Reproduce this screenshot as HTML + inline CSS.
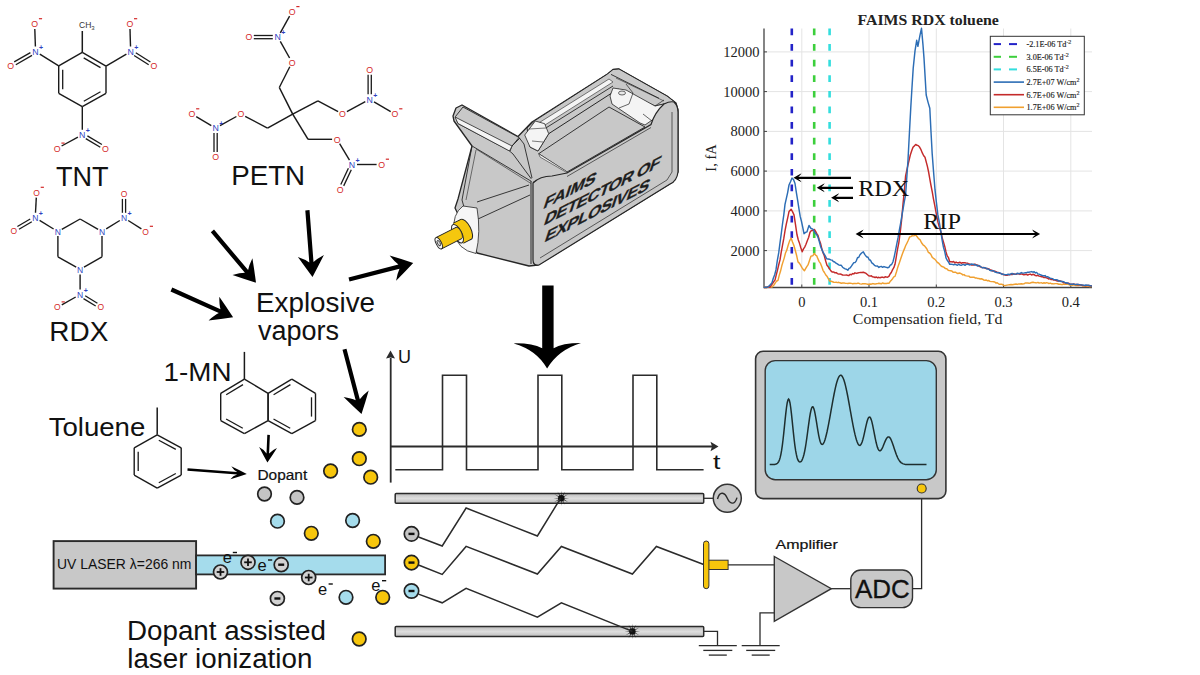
<!DOCTYPE html><html><head><meta charset="utf-8"><style>
html,body{margin:0;padding:0;background:#fff;width:1200px;height:675px;overflow:hidden}
svg{display:block}
.s{font-family:"Liberation Sans",sans-serif}
.r{font-family:"Liberation Serif",serif}
</style></head><body>
<svg width="1200" height="675" viewBox="0 0 1200 675">
<rect width="1200" height="675" fill="#fff"/>
<line x1="82.3" y1="52.4" x2="106" y2="66.2" stroke="#1a1a1a" stroke-width="1.4"/><line x1="106" y1="66.2" x2="106" y2="93.3" stroke="#1a1a1a" stroke-width="1.4"/><line x1="106" y1="93.3" x2="82.3" y2="106.7" stroke="#1a1a1a" stroke-width="1.4"/><line x1="82.3" y1="106.7" x2="58.7" y2="93.3" stroke="#1a1a1a" stroke-width="1.4"/><line x1="58.7" y1="93.3" x2="58.7" y2="65.8" stroke="#1a1a1a" stroke-width="1.4"/><line x1="58.7" y1="65.8" x2="82.3" y2="52.4" stroke="#1a1a1a" stroke-width="1.4"/><line x1="83.7" y1="57.9" x2="100.5" y2="67.6" stroke="#1a1a1a" stroke-width="1.3"/><line x1="100.5" y1="91.8" x2="83.8" y2="101.2" stroke="#1a1a1a" stroke-width="1.3"/><line x1="62.7" y1="89.3" x2="62.7" y2="69.8" stroke="#1a1a1a" stroke-width="1.3"/>
<line x1="82.3" y1="52.4" x2="82.3" y2="31" stroke="#1a1a1a" stroke-width="1.5"/>
<text x="79" y="28" font-size="8.5" fill="#333" class="s">CH<tspan font-size="6" dy="2">3</tspan></text>
<line x1="58.7" y1="65.8" x2="39.8" y2="54.1" stroke="#1a1a1a" stroke-width="1.4"/><line x1="35.4" y1="46.5" x2="34.8" y2="29" stroke="#1a1a1a" stroke-width="1.4"/><line x1="30.4" y1="52.6" x2="14.2" y2="61.9" stroke="#1a1a1a" stroke-width="1.3"/><line x1="32" y1="55.4" x2="15.8" y2="64.7" stroke="#1a1a1a" stroke-width="1.3"/><text x="35.5" y="54.7" text-anchor="middle" font-size="8.8" fill="#2f3fbf" class="s">N</text><text x="41.1" y="49.7" text-anchor="middle" font-size="7" fill="#2f3fbf" class="s" font-weight="bold">+</text><text x="34.7" y="27.2" text-anchor="middle" font-size="8.8" fill="#d42a2a" class="s">O</text><line x1="38.9" y1="18.7" x2="42.1" y2="18.7" stroke="#d42a2a" stroke-width="1.2"/><text x="10.7" y="69" text-anchor="middle" font-size="8.8" fill="#d42a2a" class="s">O</text>
<line x1="106" y1="66.2" x2="126.4" y2="54.1" stroke="#1a1a1a" stroke-width="1.4"/><line x1="130.5" y1="46.5" x2="130" y2="29" stroke="#1a1a1a" stroke-width="1.4"/><line x1="134.1" y1="55.5" x2="148.7" y2="64.7" stroke="#1a1a1a" stroke-width="1.3"/><line x1="135.8" y1="52.8" x2="150.4" y2="62" stroke="#1a1a1a" stroke-width="1.3"/><text x="130.7" y="54.7" text-anchor="middle" font-size="8.8" fill="#2f3fbf" class="s">N</text><text x="136.3" y="49.7" text-anchor="middle" font-size="7" fill="#2f3fbf" class="s" font-weight="bold">+</text><text x="129.8" y="27.2" text-anchor="middle" font-size="8.8" fill="#d42a2a" class="s">O</text><line x1="134" y1="18.7" x2="137.2" y2="18.7" stroke="#d42a2a" stroke-width="1.2"/><text x="153.8" y="69.2" text-anchor="middle" font-size="8.8" fill="#d42a2a" class="s">O</text>
<line x1="82.3" y1="106.7" x2="82.3" y2="129.7" stroke="#1a1a1a" stroke-width="1.4"/><line x1="77.9" y1="137.1" x2="61.6" y2="146" stroke="#1a1a1a" stroke-width="1.4"/><line x1="85.8" y1="138.6" x2="100.3" y2="147.2" stroke="#1a1a1a" stroke-width="1.3"/><line x1="87.4" y1="135.9" x2="101.9" y2="144.5" stroke="#1a1a1a" stroke-width="1.3"/><text x="82.3" y="137.9" text-anchor="middle" font-size="8.8" fill="#2f3fbf" class="s">N</text><text x="87.9" y="132.9" text-anchor="middle" font-size="7" fill="#2f3fbf" class="s" font-weight="bold">+</text><text x="57.2" y="151.6" text-anchor="middle" font-size="8.8" fill="#d42a2a" class="s">O</text><line x1="61.4" y1="143.1" x2="64.6" y2="143.1" stroke="#d42a2a" stroke-width="1.2"/><text x="105.4" y="151.6" text-anchor="middle" font-size="8.8" fill="#d42a2a" class="s">O</text>
<line x1="80.1" y1="219" x2="98.1" y2="229.4" stroke="#1a1a1a" stroke-width="1.4"/><line x1="102" y1="236.1" x2="102" y2="256.8" stroke="#1a1a1a" stroke-width="1.4"/><line x1="102" y1="256.8" x2="84" y2="267.2" stroke="#1a1a1a" stroke-width="1.4"/><line x1="76.2" y1="267.2" x2="57.9" y2="256.8" stroke="#1a1a1a" stroke-width="1.4"/><line x1="57.9" y1="256.8" x2="57.9" y2="236.1" stroke="#1a1a1a" stroke-width="1.4"/><line x1="61.8" y1="229.4" x2="80.1" y2="219" stroke="#1a1a1a" stroke-width="1.4"/>
<text x="102" y="234.8" text-anchor="middle" font-size="8.5" fill="#2f3fbf" class="s">N</text>
<text x="80.1" y="272.6" text-anchor="middle" font-size="8.5" fill="#2f3fbf" class="s">N</text>
<text x="57.9" y="234.8" text-anchor="middle" font-size="8.5" fill="#2f3fbf" class="s">N</text>
<line x1="53.6" y1="229" x2="39.6" y2="220.4" stroke="#1a1a1a" stroke-width="1.4"/><line x1="35.5" y1="212.8" x2="36.3" y2="197.6" stroke="#1a1a1a" stroke-width="1.4"/><line x1="30.2" y1="219" x2="17.4" y2="226.5" stroke="#1a1a1a" stroke-width="1.3"/><line x1="31.8" y1="221.7" x2="19" y2="229.2" stroke="#1a1a1a" stroke-width="1.3"/><text x="35.3" y="221" text-anchor="middle" font-size="8.5" fill="#2f3fbf" class="s">N</text><text x="40.9" y="216" text-anchor="middle" font-size="7" fill="#2f3fbf" class="s" font-weight="bold">+</text><text x="36.5" y="195.8" text-anchor="middle" font-size="8.5" fill="#d42a2a" class="s">O</text><line x1="40.7" y1="187.3" x2="43.9" y2="187.3" stroke="#d42a2a" stroke-width="1.2"/><text x="13.9" y="233.6" text-anchor="middle" font-size="8.5" fill="#d42a2a" class="s">O</text>
<line x1="106.2" y1="228.9" x2="119.8" y2="220.5" stroke="#1a1a1a" stroke-width="1.4"/><line x1="128.2" y1="220.5" x2="141.4" y2="228.9" stroke="#1a1a1a" stroke-width="1.4"/><line x1="125.6" y1="212.8" x2="125.6" y2="198.9" stroke="#1a1a1a" stroke-width="1.3"/><line x1="122.4" y1="212.8" x2="122.4" y2="198.9" stroke="#1a1a1a" stroke-width="1.3"/><text x="124" y="221" text-anchor="middle" font-size="8.5" fill="#2f3fbf" class="s">N</text><text x="129.6" y="216" text-anchor="middle" font-size="7" fill="#2f3fbf" class="s" font-weight="bold">+</text><text x="145.6" y="234.8" text-anchor="middle" font-size="8.5" fill="#d42a2a" class="s">O</text><line x1="149.8" y1="226.3" x2="153" y2="226.3" stroke="#d42a2a" stroke-width="1.2"/><text x="124" y="197.1" text-anchor="middle" font-size="8.5" fill="#d42a2a" class="s">O</text>
<line x1="80.1" y1="274.4" x2="80.1" y2="289.6" stroke="#1a1a1a" stroke-width="1.4"/><line x1="75.7" y1="297" x2="61.8" y2="304.8" stroke="#1a1a1a" stroke-width="1.4"/><line x1="83.5" y1="298.6" x2="95.7" y2="306" stroke="#1a1a1a" stroke-width="1.3"/><line x1="85.2" y1="295.8" x2="97.4" y2="303.2" stroke="#1a1a1a" stroke-width="1.3"/><text x="80.1" y="297.8" text-anchor="middle" font-size="8.5" fill="#2f3fbf" class="s">N</text><text x="85.7" y="292.8" text-anchor="middle" font-size="7" fill="#2f3fbf" class="s" font-weight="bold">+</text><text x="57.4" y="310.4" text-anchor="middle" font-size="8.5" fill="#d42a2a" class="s">O</text><line x1="61.6" y1="301.9" x2="64.8" y2="301.9" stroke="#d42a2a" stroke-width="1.2"/><text x="100.8" y="310.4" text-anchor="middle" font-size="8.5" fill="#d42a2a" class="s">O</text>
<line x1="292.7" y1="114.1" x2="279.3" y2="87.5" stroke="#1a1a1a" stroke-width="1.5"/><line x1="279.3" y1="87.5" x2="289.8" y2="66.8" stroke="#1a1a1a" stroke-width="1.4"/><line x1="289.6" y1="58" x2="280.3" y2="41.4" stroke="#1a1a1a" stroke-width="1.4"/><line x1="280.3" y1="32.8" x2="289.6" y2="16.2" stroke="#1a1a1a" stroke-width="1.4"/><line x1="272.8" y1="35.5" x2="253.8" y2="35.5" stroke="#1a1a1a" stroke-width="1.3"/><line x1="272.8" y1="38.7" x2="253.8" y2="38.7" stroke="#1a1a1a" stroke-width="1.3"/><text x="292.1" y="65.5" text-anchor="middle" font-size="8.8" fill="#d42a2a" class="s">O</text><text x="277.8" y="40.3" text-anchor="middle" font-size="8.8" fill="#2f3fbf" class="s">N</text><text x="283.4" y="35.3" text-anchor="middle" font-size="7" fill="#2f3fbf" class="s" font-weight="bold">+</text><text x="292.1" y="15.1" text-anchor="middle" font-size="8.8" fill="#d42a2a" class="s">O</text><line x1="296.3" y1="6.6" x2="299.5" y2="6.6" stroke="#d42a2a" stroke-width="1.2"/><text x="248.8" y="40.3" text-anchor="middle" font-size="8.8" fill="#d42a2a" class="s">O</text>
<line x1="292.7" y1="114.1" x2="317.9" y2="100.8" stroke="#1a1a1a" stroke-width="1.5"/><line x1="317.9" y1="100.8" x2="338.1" y2="111.7" stroke="#1a1a1a" stroke-width="1.4"/><line x1="346.9" y1="111.7" x2="365.3" y2="101.7" stroke="#1a1a1a" stroke-width="1.4"/><line x1="374" y1="101.8" x2="390.7" y2="111.6" stroke="#1a1a1a" stroke-width="1.4"/><line x1="371.3" y1="94.3" x2="371.3" y2="74.7" stroke="#1a1a1a" stroke-width="1.3"/><line x1="368.1" y1="94.3" x2="368.1" y2="74.7" stroke="#1a1a1a" stroke-width="1.3"/><text x="342.5" y="117.3" text-anchor="middle" font-size="8.8" fill="#d42a2a" class="s">O</text><text x="369.7" y="102.5" text-anchor="middle" font-size="8.8" fill="#2f3fbf" class="s">N</text><text x="375.3" y="97.5" text-anchor="middle" font-size="7" fill="#2f3fbf" class="s" font-weight="bold">+</text><text x="395" y="117.3" text-anchor="middle" font-size="8.8" fill="#d42a2a" class="s">O</text><line x1="399.2" y1="108.8" x2="402.4" y2="108.8" stroke="#d42a2a" stroke-width="1.2"/><text x="369.7" y="72.9" text-anchor="middle" font-size="8.8" fill="#d42a2a" class="s">O</text>
<line x1="292.7" y1="114.1" x2="267.5" y2="128.1" stroke="#1a1a1a" stroke-width="1.5"/><line x1="267.5" y1="128.1" x2="245.2" y2="116.4" stroke="#1a1a1a" stroke-width="1.4"/><line x1="236.4" y1="116.5" x2="220" y2="125.7" stroke="#1a1a1a" stroke-width="1.4"/><line x1="211.3" y1="125.6" x2="196.2" y2="116.6" stroke="#1a1a1a" stroke-width="1.4"/><line x1="214" y1="133.1" x2="214" y2="152.1" stroke="#1a1a1a" stroke-width="1.3"/><line x1="217.2" y1="133.1" x2="217.2" y2="152.1" stroke="#1a1a1a" stroke-width="1.3"/><text x="240.8" y="117.3" text-anchor="middle" font-size="8.8" fill="#d42a2a" class="s">O</text><text x="215.6" y="131.3" text-anchor="middle" font-size="8.8" fill="#2f3fbf" class="s">N</text><text x="221.2" y="126.3" text-anchor="middle" font-size="7" fill="#2f3fbf" class="s" font-weight="bold">+</text><text x="191.9" y="117.3" text-anchor="middle" font-size="8.8" fill="#d42a2a" class="s">O</text><line x1="196.1" y1="108.8" x2="199.3" y2="108.8" stroke="#d42a2a" stroke-width="1.2"/><text x="215.6" y="160.3" text-anchor="middle" font-size="8.8" fill="#d42a2a" class="s">O</text>
<line x1="292.7" y1="114.1" x2="308.1" y2="139.3" stroke="#1a1a1a" stroke-width="1.5"/><line x1="308.1" y1="139.3" x2="332.1" y2="139.3" stroke="#1a1a1a" stroke-width="1.4"/><line x1="339.6" y1="143.6" x2="349.5" y2="160.2" stroke="#1a1a1a" stroke-width="1.4"/><line x1="357" y1="164.5" x2="376.6" y2="164.5" stroke="#1a1a1a" stroke-width="1.4"/><line x1="348.4" y1="168.3" x2="340.8" y2="184.5" stroke="#1a1a1a" stroke-width="1.3"/><line x1="351.3" y1="169.7" x2="343.7" y2="185.9" stroke="#1a1a1a" stroke-width="1.3"/><text x="337.1" y="142.5" text-anchor="middle" font-size="8.8" fill="#d42a2a" class="s">O</text><text x="352" y="167.7" text-anchor="middle" font-size="8.8" fill="#2f3fbf" class="s">N</text><text x="357.6" y="162.7" text-anchor="middle" font-size="7" fill="#2f3fbf" class="s" font-weight="bold">+</text><text x="381.6" y="167.7" text-anchor="middle" font-size="8.8" fill="#d42a2a" class="s">O</text><line x1="385.8" y1="159.2" x2="389" y2="159.2" stroke="#d42a2a" stroke-width="1.2"/><text x="340.1" y="192.9" text-anchor="middle" font-size="8.8" fill="#d42a2a" class="s">O</text>
<text transform="translate(55.96,186.00) scale(0.968,1)" font-size="28" class="s" fill="#111" >TNT</text>
<text transform="translate(231.18,185.30) scale(0.990,1)" font-size="28" class="s" fill="#111" >PETN</text>
<text transform="translate(49.36,341.20) scale(0.999,1)" font-size="28" class="s" fill="#111" >RDX</text>
<text transform="translate(255.97,311.70) scale(1.012,1)" font-size="27.5" class="s" fill="#111" >Explosive</text>
<text transform="translate(257.93,339.50) scale(0.982,1)" font-size="27.5" class="s" fill="#111" >vapors</text>
<path d="M210.8 232.3 L244.9 272.8 Q240 272.8 232.5 275 Q244.1 279 256 282.7 Q254.4 270.3 252.4 258.3 Q249 265.3 248.1 270.1 L214 229.5 Z" fill="#000"/>
<path d="M305.3 210.4 L309.3 262.4 Q305.3 259.5 297.9 257 Q305 266.9 312.5 276.9 Q318.4 265.9 323.9 255 Q317 258.7 313.5 262.1 L309.5 210 Z" fill="#000"/>
<path d="M170.5 291.4 L218.8 313.1 Q214.4 315.2 208.6 320.5 Q220.8 319.1 233.1 317.2 Q226.3 306.7 219.3 296.7 Q219.2 304.6 220.5 309.3 L172.3 287.6 Z" fill="#000"/>
<path d="M349.5 281.4 L399.5 268.7 Q397.4 273.1 396.1 280.8 Q404.7 272.1 413.2 263 Q401.4 259 389.6 255.6 Q394.5 261.7 398.4 264.6 L348.5 277.4 Z" fill="#000"/>
<path d="M342.5 349.8 L355.7 400.3 Q351.3 398.2 343.6 397 Q352.3 405.6 361.5 414 Q365.4 402.1 368.7 390.4 Q362.6 395.2 359.8 399.2 L346.5 348.8 Z" fill="#000"/>
<path d="M542.2 285.5 L553.6 285.5 L553.6 348.3 Q562 343 581 343 Q558 350 547.1 368.6 Q537 350 513.6 343.4 Q532 343 542.2 348.3 Z" fill="#000"/>
<polygon points="453,116 456,108 462,105 518,136.5 532,122 607.5,74 613,69.5 619,69 667,96 676,103 678,110 678,172 673,182 538,265 529,266 477,253 455,208 458,199 472,146 454,121" fill="#c8c8c8" stroke="#262626" stroke-width="1.3" stroke-linejoin="round"/>
<polygon points="455.5,116.5 463,107 519,137.5 512,146 510,151 458,123.5" fill="#c8c8c8" stroke="#262626" stroke-width="0.9" stroke-linejoin="round"/>
<polygon points="455,117 512,146 509.5,151 458,123.5" fill="#f4f4f4" stroke="#262626" stroke-width="0.8" stroke-linejoin="round"/>
<polyline points="512,146 520,138" fill="none" stroke="#262626" stroke-width="0.9" stroke-linejoin="round"/>
<polyline points="509.5,151 513,154 531.3,178.9" fill="none" stroke="#262626" stroke-width="0.9" stroke-linejoin="round"/>
<polyline points="519,137.5 524,144 532,178" fill="none" stroke="#262626" stroke-width="0.9" stroke-linejoin="round"/>
<polyline points="472.6,146.3 531.3,181.3" fill="none" stroke="#262626" stroke-width="0.9" stroke-linejoin="round"/>
<polyline points="476,149 531,183.5" fill="none" stroke="#262626" stroke-width="0.6" stroke-linejoin="round"/>
<polyline points="472,146 462,200 477,253" fill="none" stroke="#262626" stroke-width="0.9" stroke-linejoin="round"/>
<polyline points="476,150 466,200" fill="none" stroke="#262626" stroke-width="0.6" stroke-linejoin="round"/>
<polyline points="477,202 529,185" fill="none" stroke="#262626" stroke-width="0.9" stroke-linejoin="round"/>
<polyline points="478,219 530,195" fill="none" stroke="#262626" stroke-width="0.9" stroke-linejoin="round"/>
<polyline points="531,181 531,264" fill="none" stroke="#262626" stroke-width="1.0" stroke-linejoin="round"/>
<polyline points="534,181 534,264" fill="none" stroke="#262626" stroke-width="0.7" stroke-linejoin="round"/>
<polygon points="527,128 535.3,120.3 607.5,74 613,69.5 619,69 667,96 676,103 664,104 655,106 618,89 548.7,133.7 538,151 530,147" fill="#c8c8c8" stroke="#262626" stroke-width="1.0" stroke-linejoin="round"/>
<polygon points="537,124 609,79 613,82 541,127.5" fill="#f4f4f4" stroke="#262626" stroke-width="0.6" stroke-linejoin="round"/>
<polyline points="541,131 613,86" fill="none" stroke="#262626" stroke-width="0.9" stroke-linejoin="round"/>
<polyline points="611,74.4 659,98.3" fill="none" stroke="#262626" stroke-width="0.9" stroke-linejoin="round"/>
<polyline points="616,78 664,101" fill="none" stroke="#262626" stroke-width="0.6" stroke-linejoin="round"/>
<polygon points="613,88 626,90 655,106 664,104 668,110 655,118 645,125 640,123 612,104 610,96" fill="#f4f4f4" stroke="#262626" stroke-width="0.8" stroke-linejoin="round"/>
<ellipse cx="622" cy="93" rx="3.5" ry="2" fill="#e8e8e8" stroke="#262626" stroke-width="0.7"/>
<polyline points="626,84 633,93 629,104 619,108" fill="none" stroke="#262626" stroke-width="0.7" stroke-linejoin="round"/>
<polyline points="643,114 652,121" fill="none" stroke="#262626" stroke-width="0.7" stroke-linejoin="round"/>
<polyline points="655,106 664,100" fill="none" stroke="#262626" stroke-width="0.7" stroke-linejoin="round"/>
<polygon points="524.7,135 535.3,121 544.7,123.7 548.7,133.7 538,151 530,147" fill="#f4f4f4" stroke="#262626" stroke-width="0.8" stroke-linejoin="round"/>
<polyline points="529,129 546,128" fill="none" stroke="#262626" stroke-width="0.6" stroke-linejoin="round"/>
<polyline points="532,141 543,142" fill="none" stroke="#262626" stroke-width="0.6" stroke-linejoin="round"/>
<polygon points="538.7,153.7 609,107 645,127 567,172" fill="#c8c8c8" stroke="#262626" stroke-width="0.9" stroke-linejoin="round"/>
<polygon points="538.7,153.7 566,171 568.7,173.7 540,157" fill="#f4f4f4" stroke="#262626" stroke-width="0.6" stroke-linejoin="round"/>
<path d="M533 183 Q540 176 552 176 L567 173 L651 124.5 Q655 112 664 104 Q670 101 674 102 Q678 106 678 112 L678 172 Q677 181 670 184 L539 265 Q533 266 533 260 Z" fill="#c8c8c8" stroke="#262626" stroke-width="1.2"/>
<polyline points="567,176.5 651,127.5" fill="none" stroke="#262626" stroke-width="0.7" stroke-linejoin="round"/>
<polyline points="672,112 672,172 667,180 540,258" fill="none" stroke="#262626" stroke-width="0.7" stroke-linejoin="round"/>
<path d="M463 206 Q452 214 454 232 Q457 250 476 253.5 Q481 232 477 208 Z" fill="#f6f6f6" stroke="#262626" stroke-width="0.8"/>
<ellipse cx="466" cy="229.4" rx="4.7" ry="11.2" transform="rotate(-27 466 229.4)" fill="#f5c70e" stroke="#262626" stroke-width="1.0"/>
<polygon points="463.5,243.2 471.1,239.3 460.9,219.4 453.3,223.2" fill="#f5c70e" stroke="none"/><line x1="463.5" y1="243.2" x2="471.1" y2="239.3" stroke="#262626" stroke-width="1"/><line x1="453.3" y1="223.2" x2="460.9" y2="219.4" stroke="#262626" stroke-width="1"/>
<ellipse cx="457.5" cy="233.7" rx="4.3" ry="10.2" transform="rotate(-27 457.5 233.7)" fill="#f8f8f8" stroke="#262626" stroke-width="1.0"/>
<ellipse cx="458.8" cy="233" rx="2.6" ry="6.3" transform="rotate(-27 458.8 233)" fill="#f5c70e" stroke="#262626" stroke-width="0.8"/>
<polygon points="441.7,248.8 461.7,238.6 456,227.4 435.9,237.6" fill="#f5c70e" stroke="none"/><line x1="441.7" y1="248.8" x2="461.7" y2="238.6" stroke="#262626" stroke-width="1"/><line x1="435.9" y1="237.6" x2="456" y2="227.4" stroke="#262626" stroke-width="1"/>
<ellipse cx="438.8" cy="243.2" rx="2.6" ry="6.3" transform="rotate(-27 438.8 243.2)" fill="#f8f8f8" stroke="#262626" stroke-width="1.0"/>
<ellipse cx="438.8" cy="243.2" rx="1.3" ry="3" transform="rotate(-27 438.8 243.2)" fill="#d8d8d8" stroke="#262626" stroke-width="0.8"/>
<g transform="matrix(1,-0.51,-0.33,1,0,0)" font-family="Liberation Sans" font-weight="bold" font-size="17" fill="#1e1e1e" stroke="#1e1e1e" stroke-width="0.35">
<text x="735.3" y="584.3" letter-spacing="0">FAIMS</text>
<text x="742.5" y="604.5" letter-spacing="-0.6">DETECTOR OF</text>
<text x="749.9" y="625" letter-spacing="-0.4">EXPLOSIVES</text>
</g>
<line x1="801.8" y1="28.5" x2="801.8" y2="287.5" stroke="#e4e4e4" stroke-width="1"/>
<line x1="869" y1="28.5" x2="869" y2="287.5" stroke="#e4e4e4" stroke-width="1"/>
<line x1="936.3" y1="28.5" x2="936.3" y2="287.5" stroke="#e4e4e4" stroke-width="1"/>
<line x1="1003.5" y1="28.5" x2="1003.5" y2="287.5" stroke="#e4e4e4" stroke-width="1"/>
<line x1="1070.8" y1="28.5" x2="1070.8" y2="287.5" stroke="#e4e4e4" stroke-width="1"/>
<line x1="764" y1="250.6" x2="1092" y2="250.6" stroke="#e4e4e4" stroke-width="1"/>
<line x1="764" y1="210.9" x2="1092" y2="210.9" stroke="#e4e4e4" stroke-width="1"/>
<line x1="764" y1="171.1" x2="1092" y2="171.1" stroke="#e4e4e4" stroke-width="1"/>
<line x1="764" y1="131.4" x2="1092" y2="131.4" stroke="#e4e4e4" stroke-width="1"/>
<line x1="764" y1="91.6" x2="1092" y2="91.6" stroke="#e4e4e4" stroke-width="1"/>
<line x1="764" y1="51.9" x2="1092" y2="51.9" stroke="#e4e4e4" stroke-width="1"/>
<polyline points="764,28.5 764,287.5 1092,287.5" fill="none" stroke="#444" stroke-width="1.3"/>
<line x1="764" y1="250.6" x2="767" y2="250.6" stroke="#444" stroke-width="1"/>
<text x="759.5" y="255.6" text-anchor="end" font-size="14.5" class="r" fill="#222">2000</text>
<line x1="764" y1="210.9" x2="767" y2="210.9" stroke="#444" stroke-width="1"/>
<text x="759.5" y="215.9" text-anchor="end" font-size="14.5" class="r" fill="#222">4000</text>
<line x1="764" y1="171.1" x2="767" y2="171.1" stroke="#444" stroke-width="1"/>
<text x="759.5" y="176.1" text-anchor="end" font-size="14.5" class="r" fill="#222">6000</text>
<line x1="764" y1="131.4" x2="767" y2="131.4" stroke="#444" stroke-width="1"/>
<text x="759.5" y="136.4" text-anchor="end" font-size="14.5" class="r" fill="#222">8000</text>
<line x1="764" y1="91.6" x2="767" y2="91.6" stroke="#444" stroke-width="1"/>
<text x="759.5" y="96.6" text-anchor="end" font-size="14.5" class="r" fill="#222">10000</text>
<line x1="764" y1="51.9" x2="767" y2="51.9" stroke="#444" stroke-width="1"/>
<text x="759.5" y="56.9" text-anchor="end" font-size="14.5" class="r" fill="#222">12000</text>
<line x1="801.8" y1="287.5" x2="801.8" y2="284.5" stroke="#444" stroke-width="1"/>
<text x="801.8" y="307" text-anchor="middle" font-size="14.5" class="r" fill="#222">0</text>
<line x1="869" y1="287.5" x2="869" y2="284.5" stroke="#444" stroke-width="1"/>
<text x="869" y="307" text-anchor="middle" font-size="14.5" class="r" fill="#222">0.1</text>
<line x1="936.3" y1="287.5" x2="936.3" y2="284.5" stroke="#444" stroke-width="1"/>
<text x="936.3" y="307" text-anchor="middle" font-size="14.5" class="r" fill="#222">0.2</text>
<line x1="1003.5" y1="287.5" x2="1003.5" y2="284.5" stroke="#444" stroke-width="1"/>
<text x="1003.5" y="307" text-anchor="middle" font-size="14.5" class="r" fill="#222">0.3</text>
<line x1="1070.8" y1="287.5" x2="1070.8" y2="284.5" stroke="#444" stroke-width="1"/>
<text x="1070.8" y="307" text-anchor="middle" font-size="14.5" class="r" fill="#222">0.4</text>
<text transform="translate(852.87,324.00) scale(1.021,1)" font-size="15.5" class="r" fill="#222" >Compensation field, Td</text>
<text transform="translate(715.5,158) rotate(-90)" text-anchor="middle" font-size="14.5" class="r" fill="#222">I, fA</text>
<text transform="translate(857.48,24.90) scale(1.148,1)" font-size="13.8" class="r" fill="#222" font-weight="bold">FAIMS RDX toluene</text>
<line x1="791.8" y1="28.5" x2="791.8" y2="287.5" stroke="#2323c8" stroke-width="2.6" stroke-dasharray="6.7 8.9"/>
<line x1="814.2" y1="28.5" x2="814.2" y2="287.5" stroke="#3ccf3c" stroke-width="2.6" stroke-dasharray="6.7 8.9"/>
<line x1="829.6" y1="28.5" x2="829.6" y2="287.5" stroke="#33dede" stroke-width="2.6" stroke-dasharray="6.7 8.9"/>
<polyline points="764,287.5 765.3,287.2 766.7,287.5 768,287.4 769.3,287 770.7,287.1 772,287 773.2,285.7 774.4,284.4 775.6,282.4 776.8,281 778,280.3 779.2,275.4 780.5,271.3 781.8,265.8 783,261.9 784.2,258.1 785.5,253 786.8,250.1 788,245.7 789.5,241.1 791.1,238 792.5,242 794,245.8 795.3,250.5 796.7,255.8 798,261.9 799.3,263.1 800.6,265.2 801.8,267.4 803.1,269.3 804.4,270.8 805.6,268.7 806.8,266.6 808,264.9 809.5,260.6 811,256.1 812.7,255.8 814.4,253.4 815.6,255.1 816.8,255.9 818,258.9 819.2,261.6 820.5,263.4 821.8,266.8 823,270.3 824.4,272.5 825.8,275 827.2,276.6 828.6,279.2 830,281.3 831.2,281.2 832.5,281.7 833.8,282.2 835,282.4 836.2,282.3 837.5,282.6 838.8,282.3 840,282.8 841.3,283.3 842.6,283 843.9,282.9 845.2,283.2 846.5,283.4 847.8,283.5 849,283.2 850.3,283.3 851.5,283.4 852.7,283.7 854,283.5 855.2,283.4 856.4,283.6 857.7,283.2 858.9,283.3 860.1,283.9 861.4,284.1 862.6,283.8 863.8,283.7 865.1,283.6 866.3,283.9 867.5,284.3 868.8,284.2 870,284 871.3,284.2 872.5,283.6 873.8,283.8 875,284.1 876.3,283.7 877.6,283.6 878.8,283.3 880.1,283.5 881.3,283.8 882.6,282.9 883.9,283.5 885.1,283.5 886.4,283.5 887.6,283.3 888.9,283.3 890.1,281.6 891.3,280.3 892.6,278.7 893.8,276.9 895,276.4 896.5,271.7 897.9,266.9 899.3,263 900.8,258.6 902,255.1 903.2,251.8 904.4,248.9 905.6,245.8 906.9,243.2 908.3,240.3 909.6,237 910.8,236.6 912,235.8 913.2,235.9 914.4,235.6 915.6,234.8 917.1,236.7 918.5,238.7 920,239.6 921.5,242.8 923,244.8 924.5,245.9 925.8,247.5 927,249.2 928.3,252.3 929.6,253 930.9,254.5 932.1,257.1 933.4,258.3 934.7,259.1 936,260.6 937.4,262.5 938.7,263.2 940,264.7 941.4,266.2 942.7,266.7 944.1,267.4 945.5,268.6 946.8,268.8 948.2,270.2 949.4,270.6 950.6,270.7 951.9,271 953.1,272.3 954.3,272.2 955.5,272.2 956.7,273 957.9,273.6 959.2,273 960.4,273.3 961.6,273.9 962.8,274.9 964,274.6 965.2,275.6 966.5,275.9 967.7,276.1 968.9,276.1 970.1,277.2 971.4,277.3 972.6,277.2 973.9,277.2 975.1,277.9 976.3,277.9 977.6,278.4 978.8,278.4 980.1,279 981.3,278.7 982.6,279.2 983.8,280.1 985,280.3 986.3,280 987.5,280.8 988.8,280.5 990,281.4 991.2,281.6 992.4,281.6 993.6,281.8 994.8,282 996,283.1 997.2,282.7 998.5,283.8 999.7,284.3 1000.9,284.3 1002.1,284.3 1003.3,285.2 1004.5,285.7 1005.8,285.4 1007.1,285.1 1008.4,284.9 1009.7,284.7 1011,284.5 1012.2,284.8 1013.5,284.5 1014.8,284.2 1016.1,284 1017.4,284.4 1018.7,283.9 1020,284 1021.3,283.7 1022.6,284 1023.9,283.9 1025.2,283 1026.5,283 1027.7,282.9 1029,283.3 1030.3,283 1031.6,282.5 1032.9,282.2 1034.2,282.5 1035.4,282.7 1036.7,282.9 1037.9,282.4 1039.1,283 1040.3,282.9 1041.6,282.8 1042.8,283.3 1044,282.7 1045.3,283.2 1046.5,282.7 1047.7,282.9 1048.9,283.6 1050.2,283.1 1051.4,283.7 1052.6,283.6 1053.9,283.9 1055.1,283.6 1056.3,283.6 1057.5,283.7 1058.8,284.2 1060,284.1 1061.2,284.5 1062.5,284.5 1063.7,284 1064.9,284.4 1066.2,284.2 1067.4,284.2 1068.6,284.3 1069.8,285.1 1071.1,285.1 1072.3,285.2 1073.5,284.9 1074.8,285.2 1076,285.5 1077.2,285.2 1078.5,285.5 1079.7,285.3 1080.9,285.3 1082.2,285.5 1083.4,286.1 1084.6,286 1085.8,286.3 1087.1,286.1 1088.3,286 1089.5,286.5 1090.8,286.4 1092,286.5" fill="none" stroke="#f0a030" stroke-width="1.45" stroke-linejoin="round"/>
<polyline points="764,287.5 765.2,287.5 766.4,287.5 767.6,286.9 768.8,286.8 770,287.2 771.2,285.4 772.5,283.6 773.8,281.6 775,280.1 776.2,275.1 777.5,270.1 778.8,264.5 780,259.9 781.2,252.3 782.5,245.4 783.8,238.4 785,230.8 786.3,224.1 787.7,217.9 789,211.6 791.1,209.2 792.5,211.6 794,214.9 795.5,224.7 797,234.8 798.3,240 799.6,243.6 800.9,248 802.2,251.7 803.5,248.9 804.7,247.1 806,244.3 807.3,240.7 808.7,237.2 810,232.3 811.5,230.4 812.9,230.6 814.4,229.4 815.6,231.4 816.8,233.7 818,235.5 819.2,239.8 820.5,243.2 821.8,248.6 823,252.8 824.3,255.7 825.7,261.1 827,265.3 828.4,267 829.7,269.1 831.1,271.1 832.4,272.1 833.6,271.9 834.9,272.8 836.2,272.6 837.5,273.6 838.7,274.1 840,274 841.3,274.3 842.6,275 843.9,275.1 845.2,275.1 846.5,275 847.8,275.4 849,275.4 850.2,274.3 851.4,274.8 852.6,273.6 853.8,273.9 855,272.8 856.4,273.4 857.8,273 859.1,272.6 860.5,272.5 861.9,272.5 863.3,272.3 864.6,272.7 866,273.4 867.3,274.5 868.7,275.7 870,276.1 871.3,275.8 872.5,276.9 873.8,277 875.1,277.5 876.4,277 877.6,277.8 878.9,277.3 880.1,277.8 881.4,277.3 882.6,277.1 883.9,277.7 885.1,276.7 886.4,277 887.6,277.2 888.9,276.4 890.1,274 891.3,272.5 892.6,269.6 893.8,267.7 895,264.3 896.2,257.3 897.5,249.4 898.8,242.8 900,234.2 901.5,220.8 903,204.1 904.3,191.3 905.6,175.8 907.3,167.9 909,160.6 910.3,155 911.7,150.8 913,147.3 914.3,145.9 915.7,144.4 917,145.3 918.3,145.6 919.7,147.3 921,149.7 922.3,152.9 923.7,155.8 925,157.3 927.4,166.4 928.6,172 929.8,178.8 931,185.5 932.3,192.2 933.5,199.2 934.8,205.7 936.4,214.3 938,222.4 939.4,227.2 940.9,232 942.3,238.1 943.5,242.2 944.8,246.6 946,251.9 947.2,255.9 948.5,257.7 949.7,261.7 951,261.6 952.3,262 953.6,261.5 954.9,263 956.1,262.1 957.4,262.8 958.7,262.7 960,262.2 961.2,263.2 962.5,262.7 963.7,262.7 965,262.8 966.2,263.1 967.5,263.1 968.7,264.1 969.9,264 971.2,264.9 972.4,264.9 973.7,265.1 974.9,264.1 976.2,264.9 977.4,265 978.7,266 979.9,266.5 981.2,267.2 982.5,267.6 983.7,267.4 985,268.1 986.2,268.7 987.5,268.4 988.7,268.9 990,269.9 991.2,269.9 992.4,271.1 993.6,270.9 994.8,271.1 996,271.6 997.2,272.1 998.5,272.5 999.7,273.3 1000.9,273.6 1002.1,273.9 1003.3,274.7 1004.5,274.6 1005.8,275.3 1007.1,275.3 1008.4,274.9 1009.7,274.5 1011,274.5 1012.2,274.5 1013.5,273.8 1014.8,274.2 1016.1,274.3 1017.4,273.8 1018.7,273.6 1020,274.4 1021.3,273.9 1022.6,274.2 1023.9,274.7 1025.2,274.5 1026.5,274.2 1027.7,275.1 1029,274.4 1030.3,274.1 1031.6,275 1032.9,274.3 1034.2,274.7 1035.4,275.6 1036.6,275.7 1037.8,275.3 1039.1,276.1 1040.3,276.4 1041.5,276.8 1042.7,276.8 1043.9,277.5 1045.1,277.3 1046.4,277.8 1047.6,278.2 1048.8,279.1 1050,278.6 1051.2,279.6 1052.5,279.3 1053.7,280 1054.9,280.1 1056.2,280.5 1057.4,281 1058.6,281 1059.8,281 1061.1,281.3 1062.3,281.6 1063.5,282.6 1064.8,282.7 1066,283.3 1067.2,283.4 1068.5,283.1 1069.7,283.9 1070.9,284.2 1072.2,284.2 1073.4,284.2 1074.7,284.2 1075.9,284.4 1077.1,284.8 1078.4,284.5 1079.6,284.8 1080.8,284.9 1082.1,285.4 1083.3,285.4 1084.6,285.6 1085.8,285.7 1087,285.4 1088.3,285.4 1089.5,285.7 1090.8,285.9 1092,286" fill="none" stroke="#c42a2a" stroke-width="1.45" stroke-linejoin="round"/>
<polyline points="764,287.5 765.3,287.1 766.7,287.2 768,286.9 769.3,285.7 770.7,284.4 772,282.6 773.3,278.2 774.7,274.7 776,269.7 777.3,260.6 778.7,252.9 780,242.9 781.2,234.1 782.5,224 783.8,214.8 785,204.4 786.3,198.6 787.7,192.3 789,185 790.5,181.8 792,178.1 793.5,179.6 795,183.5 796.3,192.2 797.7,200.6 799,209.2 800.2,216.4 801.5,221.5 802.8,227.6 804,233.7 805.5,232.4 807,231.8 809,225.4 811,228.5 812.5,228.9 814,230.8 815.3,233.3 816.7,234.6 818,237.3 819.3,241.5 820.7,246.8 822,249.9 823.6,253.2 825.1,255.6 826.7,258.9 828,259 829.4,259.2 830.7,259.9 832,260.1 833.3,261.5 834.7,262 836,263.2 837.3,263.9 838.7,264.9 840,265.3 841.3,265.3 842.6,267.2 843.9,268.2 845.2,268.9 846.5,269.3 847.8,270.3 849,268.3 850.2,267.8 851.4,266.1 852.6,264.3 853.8,262.6 855,262.6 856.2,261.1 857.5,257.8 858.8,257.3 860,254.8 861.6,253 863.3,251.8 864.9,254.6 866.4,256.7 868,257.2 869.2,259.7 870.5,260.2 871.8,262.9 873,263.7 874.5,265.3 876,266.1 877.4,266 878.9,267.4 880.1,266.6 881.4,266.4 882.6,267.3 883.9,266.6 885.1,267 886.4,267.4 887.6,267.8 888.9,267.3 890.3,265.2 891.6,264.5 893,261.7 894.2,256.8 895.5,250.7 896.8,243.8 898,237.9 899.3,230.4 900.7,222.9 902,215.2 903.2,208.1 904.4,201.2 905.6,194.8 908,160 909.4,133.2 910.8,107.1 912,87.3 913.2,68.4 915,50.9 916.7,40.3 917.9,46.3 920,35.1 921.5,28.3 923,45.1 924,58.1 926.2,95 928,102.1 929.8,108.2 931,131.7 932.2,153.9 933.6,172.3 935,189.7 936.4,202.4 937.8,214.4 939.3,222.1 940.8,231.1 942.3,241.1 943.5,247.4 944.8,251.8 946,257.9 947.2,260.3 948.5,262 949.7,264.3 951,264.3 952.3,264.4 953.6,264.8 954.9,264.4 956.1,264.6 957.4,265.3 958.7,264.2 960,265.1 961.2,265.3 962.5,264.6 963.7,264.4 965,265.3 966.2,264.4 967.5,264.3 968.7,264.6 969.9,265 971.2,264 972.4,264.3 973.7,264.3 974.9,265 976.2,264.9 977.4,266 978.7,265.4 979.9,266.1 981.2,267 982.5,267.8 983.7,267.6 985,267.8 986.2,268.1 987.5,269.1 988.7,269.1 990,270.4 991.2,270.9 992.4,270.4 993.6,270.9 994.8,272 996,272.2 997.2,272.8 998.5,272.7 999.7,272.8 1000.9,273.4 1002.1,274.4 1003.3,274.2 1004.5,274.7 1005.8,274.6 1007.1,274.5 1008.4,274.3 1009.7,274.8 1011,273.7 1012.2,273.4 1013.5,274.3 1014.8,274.1 1016.1,274.1 1017.4,273.2 1018.7,273.7 1020,273.5 1021.3,272.6 1022.6,273.1 1023.9,273.1 1025.2,272.8 1026.5,272.6 1027.7,272.2 1029,272.2 1030.3,271.9 1031.6,271.6 1032.9,272.2 1034.2,271.7 1035.4,272.9 1036.6,272.4 1037.8,273.9 1039.1,274.1 1040.3,274.8 1041.5,275.2 1042.7,275.7 1043.9,275.8 1045.1,275.6 1046.4,276.9 1047.6,276.7 1048.8,277.3 1050,278.2 1051.2,278.4 1052.5,278.6 1053.7,279.5 1054.9,279.6 1056.2,279.7 1057.4,279.9 1058.6,280.9 1059.8,280.9 1061.1,281.5 1062.3,281.5 1063.5,281.7 1064.8,282.4 1066,283 1067.2,282.8 1068.5,283.7 1069.7,284.2 1070.9,284.2 1072.2,284.3 1073.4,283.8 1074.7,284.4 1075.9,284.7 1077.1,284.2 1078.4,284.5 1079.6,284.6 1080.8,284.9 1082.1,285 1083.3,285.1 1084.6,285.5 1085.8,285 1087,285.2 1088.3,285.3 1089.5,285.5 1090.8,285.9 1092,286" fill="none" stroke="#2c6db5" stroke-width="1.45" stroke-linejoin="round"/>
<rect x="990.3" y="36.3" width="94" height="78.5" fill="#fff" stroke="#333" stroke-width="1"/>
<line x1="993.7" y1="44.1" x2="1001" y2="44.1" stroke="#2323c8" stroke-width="2"/><line x1="1009" y1="44.1" x2="1017" y2="44.1" stroke="#2323c8" stroke-width="2"/>
<text x="1026.5" y="47.1" font-size="8.2" class="r" fill="#222" stroke="#222" stroke-width="0.15">-2.1E-06 Td<tspan dy="-3" font-size="6">-2</tspan></text>
<line x1="993.7" y1="56.8" x2="1001" y2="56.8" stroke="#3ccf3c" stroke-width="2"/><line x1="1009" y1="56.8" x2="1017" y2="56.8" stroke="#3ccf3c" stroke-width="2"/>
<text x="1026.5" y="59.8" font-size="8.2" class="r" fill="#222" stroke="#222" stroke-width="0.15">3.0E-06 Td<tspan dy="-3" font-size="6">-2</tspan></text>
<line x1="993.7" y1="69.4" x2="1001" y2="69.4" stroke="#33dede" stroke-width="2"/><line x1="1009" y1="69.4" x2="1017" y2="69.4" stroke="#33dede" stroke-width="2"/>
<text x="1026.5" y="72.4" font-size="8.2" class="r" fill="#222" stroke="#222" stroke-width="0.15">6.5E-06 Td<tspan dy="-3" font-size="6">-2</tspan></text>
<line x1="993.7" y1="82.1" x2="1024" y2="82.1" stroke="#2c6db5" stroke-width="1.6"/>
<text x="1026.5" y="85.1" font-size="8.2" class="r" fill="#222" stroke="#222" stroke-width="0.15">2.7E+07 W/cm<tspan dy="-3" font-size="6">2</tspan></text>
<line x1="993.7" y1="94.7" x2="1024" y2="94.7" stroke="#c42a2a" stroke-width="1.6"/>
<text x="1026.5" y="97.7" font-size="8.2" class="r" fill="#222" stroke="#222" stroke-width="0.15">6.7E+06 W/cm<tspan dy="-3" font-size="6">2</tspan></text>
<line x1="993.7" y1="107.3" x2="1024" y2="107.3" stroke="#f0a030" stroke-width="1.6"/>
<text x="1026.5" y="110.3" font-size="8.2" class="r" fill="#222" stroke="#222" stroke-width="0.15">1.7E+06 W/cm<tspan dy="-3" font-size="6">2</tspan></text>
<path d="M851 176.7 L798.3 176.7 Q800.3 175.8 801.5 173.3 Q797.5 175.5 793.5 177.8 Q797.5 180.1 801.5 182.3 Q800.3 179.8 798.3 178.9 L851 178.9 Z" fill="#000"/>
<path d="M853 186.7 L821.5 186.7 Q823.5 185.8 824.7 183.3 Q820.7 185.5 816.7 187.8 Q820.7 190.1 824.7 192.3 Q823.5 189.8 821.5 188.9 L853 188.9 Z" fill="#000"/>
<path d="M853 196.7 L835.9 196.7 Q837.9 195.8 839.1 193.3 Q835.1 195.5 831.1 197.8 Q835.1 200.1 839.1 202.3 Q837.9 199.8 835.9 198.9 L853 198.9 Z" fill="#000"/>
<text transform="translate(858.17,195.60) scale(1.079,1)" font-size="22.5" class="r" fill="#111" >RDX</text>
<path d="M950 233.1 L860.4 233.1 Q862.4 232 863.6 229.5 Q859.6 231.7 855.6 234 Q859.6 236.3 863.6 238.5 Q862.4 236 860.4 234.9 L950 234.9 Z" fill="#000"/>
<path d="M950 234.9 L1035.3 234.9 Q1033.3 236 1032.1 238.5 Q1036.1 236.3 1040.1 234 Q1036.1 231.7 1032.1 229.5 Q1033.3 232 1035.3 233.1 L950 233.1 Z" fill="#000"/>
<text transform="translate(923.17,229.00) scale(1.077,1)" font-size="22.5" class="r" fill="#111" >RIP</text>
<line x1="244.4" y1="379.1" x2="268.1" y2="393.3" stroke="#1a1a1a" stroke-width="1.4"/><line x1="268.1" y1="393.3" x2="268.1" y2="420.6" stroke="#1a1a1a" stroke-width="1.4"/><line x1="268.1" y1="420.6" x2="244.4" y2="433.6" stroke="#1a1a1a" stroke-width="1.4"/><line x1="244.4" y1="433.6" x2="220.7" y2="420.6" stroke="#1a1a1a" stroke-width="1.4"/><line x1="220.7" y1="420.6" x2="220.7" y2="393.3" stroke="#1a1a1a" stroke-width="1.4"/><line x1="220.7" y1="393.3" x2="244.4" y2="379.1" stroke="#1a1a1a" stroke-width="1.4"/><line x1="226.2" y1="394.7" x2="243" y2="384.6" stroke="#1a1a1a" stroke-width="1.3"/><line x1="242.8" y1="428.2" x2="226.1" y2="419" stroke="#1a1a1a" stroke-width="1.3"/>
<line x1="268.1" y1="393.3" x2="291.8" y2="379.1" stroke="#1a1a1a" stroke-width="1.4"/><line x1="291.8" y1="379.1" x2="315.5" y2="393.3" stroke="#1a1a1a" stroke-width="1.4"/><line x1="315.5" y1="393.3" x2="315.5" y2="420.6" stroke="#1a1a1a" stroke-width="1.4"/><line x1="315.5" y1="420.6" x2="291.8" y2="433.6" stroke="#1a1a1a" stroke-width="1.4"/><line x1="291.8" y1="433.6" x2="268.1" y2="420.6" stroke="#1a1a1a" stroke-width="1.4"/><line x1="268.1" y1="420.6" x2="268.1" y2="393.3" stroke="#1a1a1a" stroke-width="1.4"/><line x1="273.6" y1="394.7" x2="290.4" y2="384.6" stroke="#1a1a1a" stroke-width="1.3"/><line x1="311.5" y1="397.3" x2="311.5" y2="416.6" stroke="#1a1a1a" stroke-width="1.3"/><line x1="290.2" y1="428.2" x2="273.5" y2="419" stroke="#1a1a1a" stroke-width="1.3"/>
<line x1="244.4" y1="351.9" x2="244.4" y2="379.1" stroke="#1a1a1a" stroke-width="1.5"/>
<line x1="157.2" y1="434.8" x2="181.2" y2="447.8" stroke="#1a1a1a" stroke-width="1.4"/><line x1="181.2" y1="447.8" x2="181.2" y2="475.1" stroke="#1a1a1a" stroke-width="1.4"/><line x1="181.2" y1="475.1" x2="157.2" y2="488.1" stroke="#1a1a1a" stroke-width="1.4"/><line x1="157.2" y1="488.1" x2="134.2" y2="475.1" stroke="#1a1a1a" stroke-width="1.4"/><line x1="134.2" y1="475.1" x2="134.2" y2="447.8" stroke="#1a1a1a" stroke-width="1.4"/><line x1="134.2" y1="447.8" x2="157.2" y2="434.8" stroke="#1a1a1a" stroke-width="1.4"/><line x1="158.8" y1="440.2" x2="175.8" y2="449.4" stroke="#1a1a1a" stroke-width="1.3"/><line x1="175.8" y1="473.5" x2="158.8" y2="482.7" stroke="#1a1a1a" stroke-width="1.3"/><line x1="138.2" y1="471.1" x2="138.2" y2="451.8" stroke="#1a1a1a" stroke-width="1.3"/>
<line x1="157.2" y1="407.5" x2="157.2" y2="434.8" stroke="#1a1a1a" stroke-width="1.5"/>
<path d="M187.4 470.8 L237.1 474.6 Q233 475.9 230.4 479.3 Q238.6 476.8 246.8 474 Q239.1 470 231.3 466.3 Q233.5 470.1 237.3 472 L187.6 468.2 Z" fill="#000"/>
<path d="M267.3 434.7 L266.5 453.5 Q263.9 449.6 259.1 447.1 Q263 454.8 267.4 462.5 Q272.4 455.2 277 447.9 Q272 449.9 269.1 453.6 L269.9 434.9 Z" fill="#000"/>
<text transform="translate(163.58,380.80) scale(1.049,1)" font-size="26.5" class="s" fill="#111" >1-MN</text>
<text transform="translate(48.65,435.80) scale(1.042,1)" font-size="26.5" class="s" fill="#111" >Toluene</text>
<text transform="translate(257.46,480.30) scale(1.065,1)" font-size="14.5" class="s" fill="#111" stroke="#111" stroke-width="0.2">Dopant</text>
<circle cx="359.3" cy="429.4" r="6.8" fill="#f7c60c" stroke="#222" stroke-width="1.7"/>
<circle cx="359.3" cy="458.7" r="6.8" fill="#f7c60c" stroke="#222" stroke-width="1.7"/>
<circle cx="330.6" cy="471" r="6.8" fill="#f7c60c" stroke="#222" stroke-width="1.7"/>
<circle cx="370.7" cy="477.2" r="6.8" fill="#f7c60c" stroke="#222" stroke-width="1.7"/>
<circle cx="311.3" cy="533.3" r="6.8" fill="#f7c60c" stroke="#222" stroke-width="1.7"/>
<circle cx="373.3" cy="541.3" r="6.8" fill="#f7c60c" stroke="#222" stroke-width="1.7"/>
<circle cx="382.7" cy="597.3" r="6.8" fill="#f7c60c" stroke="#222" stroke-width="1.7"/>
<circle cx="359.2" cy="639" r="6.8" fill="#f7c60c" stroke="#222" stroke-width="1.7"/>
<circle cx="264.5" cy="494" r="6.8" fill="#c4c4c4" stroke="#222" stroke-width="1.7"/>
<circle cx="297" cy="497.4" r="6.8" fill="#c4c4c4" stroke="#222" stroke-width="1.7"/>
<circle cx="277.5" cy="521.2" r="6.8" fill="#a5dcec" stroke="#222" stroke-width="1.7"/>
<circle cx="352.6" cy="520.5" r="6.8" fill="#a5dcec" stroke="#222" stroke-width="1.7"/>
<circle cx="346" cy="597.3" r="6.8" fill="#a5dcec" stroke="#222" stroke-width="1.7"/>
<rect x="53.6" y="541.1" width="142.5" height="47.5" fill="#c8c8c8" stroke="#2a2a2a" stroke-width="1.9"/>
<text transform="translate(56.98,568.50) scale(0.996,1)" font-size="14" class="s" fill="#111" >UV LASER λ=266 nm</text>
<rect x="196.1" y="555.4" width="189" height="19" fill="#a5dcec" stroke="#2a2a2a" stroke-width="1.8"/>
<circle cx="220.5" cy="572" r="7" fill="#d2d2d2" stroke="#222" stroke-width="1.7"/><line x1="216.7" y1="572" x2="224.3" y2="572" stroke="#111" stroke-width="1.8"/><line x1="220.5" y1="568.2" x2="220.5" y2="575.8" stroke="#111" stroke-width="1.8"/>
<circle cx="248" cy="562.3" r="7" fill="#d2d2d2" stroke="#222" stroke-width="1.7"/><line x1="244.2" y1="562.3" x2="251.8" y2="562.3" stroke="#111" stroke-width="1.8"/><line x1="248" y1="558.5" x2="248" y2="566.1" stroke="#111" stroke-width="1.8"/>
<circle cx="308.7" cy="577.5" r="7" fill="#d2d2d2" stroke="#222" stroke-width="1.7"/><line x1="304.9" y1="577.5" x2="312.5" y2="577.5" stroke="#111" stroke-width="1.8"/><line x1="308.7" y1="573.7" x2="308.7" y2="581.3" stroke="#111" stroke-width="1.8"/>
<circle cx="281.2" cy="564.7" r="7" fill="#d2d2d2" stroke="#222" stroke-width="1.7"/><line x1="278.2" y1="564.7" x2="284.2" y2="564.7" stroke="#111" stroke-width="2.4"/>
<circle cx="277.4" cy="598.5" r="7" fill="#d2d2d2" stroke="#222" stroke-width="1.7"/><line x1="274.4" y1="598.5" x2="280.4" y2="598.5" stroke="#111" stroke-width="2.4"/>
<text x="222.7" y="563.3" font-size="16.5" class="s" fill="#111">e</text><line x1="232.8" y1="552.5" x2="237" y2="552.5" stroke="#111" stroke-width="1.4"/>
<text x="257.4" y="571" font-size="16.5" class="s" fill="#111">e</text><line x1="268" y1="560" x2="272.2" y2="560" stroke="#111" stroke-width="1.4"/>
<text x="318" y="594.7" font-size="16.5" class="s" fill="#111">e</text><line x1="328.6" y1="584" x2="332.8" y2="584" stroke="#111" stroke-width="1.4"/>
<text x="371.3" y="590.7" font-size="16.5" class="s" fill="#111">e</text><line x1="382" y1="580.7" x2="386.2" y2="580.7" stroke="#111" stroke-width="1.4"/>
<text transform="translate(126.98,640.30) scale(1.028,1)" font-size="27" class="s" fill="#111" >Dopant assisted</text>
<text transform="translate(127.26,668.30) scale(1.028,1)" font-size="27" class="s" fill="#111" >laser ionization</text>
<line x1="390.7" y1="358" x2="390.7" y2="482.6" stroke="#2b2b2b" stroke-width="1.8"/>
<polygon points="386,358.6 390.5,350.5 395,358.6 390.5,357.4" fill="#2b2b2b"/>
<text x="398" y="363.4" font-size="18" class="s" fill="#111">U</text>
<line x1="390.7" y1="446.5" x2="712" y2="446.5" stroke="#2b2b2b" stroke-width="1.8"/>
<polygon points="710.5,441.8 718.5,446.5 710.5,451.2 712,446.5" fill="#2b2b2b"/>
<text transform="translate(713,468.8) scale(1.3,1)" font-size="20.5" class="s" fill="#111">t</text>
<polyline points="395.3,469.7 442.5,469.7 442.5,375.3 466.5,375.3 466.5,469.7 538,469.7 538,375.3 561.8,375.3 561.8,469.7 633,469.7 633,375.3 656.8,375.3 656.8,469.7 703.6,469.7" fill="none" stroke="#2b2b2b" stroke-width="1.6"/>
<defs><linearGradient id="eg" x1="0" y1="0" x2="0" y2="1"><stop offset="0" stop-color="#bdbdbd"/><stop offset="0.5" stop-color="#dedede"/><stop offset="1" stop-color="#bdbdbd"/></linearGradient></defs>
<rect x="395.2" y="493.5" width="308.5" height="9.8" rx="1" fill="url(#eg)" stroke="#2a2a2a" stroke-width="1.5"/>
<rect x="395.2" y="626.6" width="308.5" height="10" rx="1" fill="url(#eg)" stroke="#2a2a2a" stroke-width="1.5"/>
<polygon points="561.3,490.4 561.7,496.6 565.2,491.4 562.5,497 568.1,494.3 562.9,497.8 569.1,498.2 562.9,498.6 568.1,502.1 562.5,499.4 565.2,505 561.7,499.8 561.3,506 560.9,499.8 557.4,505 560.1,499.4 554.5,502.1 559.7,498.6 553.5,498.2 559.7,497.8 554.5,494.3 560.1,497 557.4,491.4 560.9,496.6" fill="#111"/><circle cx="561.3" cy="498.2" r="3.2" fill="#111"/>
<polygon points="632.4,623.6 632.8,629.8 636.3,624.6 633.6,630.2 639.2,627.5 634,631 640.2,631.4 634,631.8 639.2,635.3 633.6,632.6 636.3,638.2 632.8,633 632.4,639.2 632,633 628.5,638.2 631.2,632.6 625.6,635.3 630.8,631.8 624.6,631.4 630.8,631 625.6,627.5 631.2,630.2 628.5,624.6 632,629.8" fill="#111"/><circle cx="632.4" cy="631.4" r="3.2" fill="#111"/>
<line x1="703.7" y1="498.3" x2="713.2" y2="498.3" stroke="#2b2b2b" stroke-width="1.3"/>
<circle cx="727.3" cy="498.3" r="14" fill="#c8c8c8" stroke="#333" stroke-width="1.5"/>
<path d="M717.5 499 C720 490 725 493 727.3 498.3 C729.6 503.6 734.5 506 737 497.6" fill="none" stroke="#2b2b2b" stroke-width="1.4"/>
<circle cx="411.5" cy="533.9" r="7.2" fill="#c4c4c4" stroke="#222" stroke-width="1.7"/><line x1="408.5" y1="533.9" x2="414.5" y2="533.9" stroke="#111" stroke-width="2.4"/>
<circle cx="411.5" cy="562.6" r="7.2" fill="#f7c60c" stroke="#222" stroke-width="1.7"/><line x1="408.5" y1="562.6" x2="414.5" y2="562.6" stroke="#111" stroke-width="2.4"/>
<circle cx="411.5" cy="591" r="7.2" fill="#a5dcec" stroke="#222" stroke-width="1.7"/><line x1="408.5" y1="591" x2="414.5" y2="591" stroke="#111" stroke-width="2.4"/>
<polyline points="418.5,537 442.2,546 466.1,508 537.4,536 560.5,498.4" fill="none" stroke="#2b2b2b" stroke-width="1.5"/>
<polyline points="418.5,565 442.2,574.4 466.1,546.4 537.4,574 561.4,546.5 632.4,574 656.4,546.5 705,565" fill="none" stroke="#2b2b2b" stroke-width="1.5"/>
<polyline points="418.5,594.1 442.2,602.8 466.1,588.3 537.4,617.1 561.4,602.9 632.4,631.4" fill="none" stroke="#2b2b2b" stroke-width="1.5"/>
<line x1="728" y1="564.8" x2="774.3" y2="564.8" stroke="#2b2b2b" stroke-width="1.3"/>
<rect x="707.5" y="560.2" width="20.6" height="9.3" fill="#f7c60c" stroke="#333" stroke-width="1"/>
<rect x="703.5" y="541" width="5.4" height="47.7" rx="2.7" fill="#f7c60c" stroke="#333" stroke-width="1"/>
<polyline points="703.7,631.4 717.5,631.4 717.5,645.7" fill="none" stroke="#2b2b2b" stroke-width="1.3"/>
<line x1="698.8" y1="645.7" x2="736.8" y2="645.7" stroke="#2b2b2b" stroke-width="1.3"/><line x1="703.3" y1="650.4" x2="732.3" y2="650.4" stroke="#2b2b2b" stroke-width="1.3"/><line x1="708.8" y1="655.1" x2="726.8" y2="655.1" stroke="#2b2b2b" stroke-width="1.3"/>
<polyline points="774.3,612.8 760,612.8 760,645.7" fill="none" stroke="#2b2b2b" stroke-width="1.3"/>
<line x1="741.7" y1="645.7" x2="779.7" y2="645.7" stroke="#2b2b2b" stroke-width="1.3"/><line x1="746.2" y1="650.4" x2="775.2" y2="650.4" stroke="#2b2b2b" stroke-width="1.3"/><line x1="751.7" y1="655.1" x2="769.7" y2="655.1" stroke="#2b2b2b" stroke-width="1.3"/>
<polygon points="774.3,556.5 831.3,588.7 774.3,621.4" fill="#c8c8c8" stroke="#333" stroke-width="1.4"/>
<text transform="translate(775.60,548.75) scale(1.185,1)" font-size="13.5" class="s" fill="#111" stroke="#111" stroke-width="0.22">Amplifier</text>
<line x1="831.3" y1="588.7" x2="850.8" y2="588.7" stroke="#2b2b2b" stroke-width="1.3"/>
<rect x="850.8" y="570" width="61.7" height="37.6" rx="10" fill="#c8c8c8" stroke="#333" stroke-width="1.4"/>
<text transform="translate(855.00,598.10) scale(0.999,1)" font-size="26" class="s" fill="#111" stroke="#111" stroke-width="0.3">ADC</text>
<polyline points="912.5,588.7 921.6,588.7 921.6,493" fill="none" stroke="#2b2b2b" stroke-width="1.3"/>
<rect x="755.6" y="351.3" width="190.3" height="147.3" rx="7.5" fill="#c8c8c8" stroke="#333" stroke-width="1.6"/>
<rect x="765.2" y="360.6" width="171.1" height="119.1" rx="10" fill="#9dd6e8" stroke="#333" stroke-width="1.4"/>
<circle cx="921.7" cy="488.5" r="4.5" fill="#f7c60c" stroke="#333" stroke-width="1.1"/>
<polyline points="769.7,464.6 770.4,464.6 771.1,464.6 771.8,464.6 772.5,464.6 773.2,464.6 773.9,464.5 774.6,464.5 775.3,464.3 776,464.1 776.7,463.8 777.4,463.3 778.1,462.5 778.8,461.3 779.5,459.7 780.2,457.4 780.9,454.3 781.6,450.4 782.3,445.7 783,440 783.7,433.7 784.4,426.9 785.1,419.9 785.8,413.3 786.5,407.5 787.2,403 787.9,400.1 788.6,399.1 789.3,400.1 790,403 790.7,407.5 791.4,413.3 792.1,419.9 792.8,426.9 793.5,433.7 794.2,440 794.9,445.6 795.6,450.4 796.3,454.2 797,457.2 797.7,459.4 798.4,460.8 799.1,461.7 799.8,462 800.5,461.9 801.2,461.4 801.9,460.3 802.6,458.8 803.3,456.8 804,454.2 804.7,451.1 805.4,447.3 806.1,443 806.8,438.2 807.5,433 808.2,427.7 808.9,422.6 809.6,417.7 810.3,413.5 811,410.2 811.7,407.9 812.4,406.9 813.1,407 813.8,408.5 814.5,410.9 815.2,414.3 815.9,418.4 816.6,422.7 817.3,427.2 818,431.4 818.7,435.3 819.4,438.6 820.1,441.2 820.8,443.1 821.5,444.2 822.2,444.5 822.9,444.2 823.6,443.2 824.3,441.7 825,439.7 825.7,437.3 826.4,434.5 827.1,431.5 827.8,428.1 828.5,424.6 829.2,420.9 829.9,417.1 830.6,413.2 831.3,409.2 832,405.3 832.7,401.4 833.4,397.6 834.1,394 834.8,390.6 835.5,387.4 836.2,384.5 836.9,381.9 837.6,379.7 838.3,378 839,376.6 839.7,375.7 840.4,375.2 841.1,375.3 841.8,375.8 842.5,376.8 843.2,378.2 843.9,380 844.6,382.3 845.3,384.9 846,387.8 846.7,391.1 847.4,394.5 848.1,398.2 848.8,402 849.5,405.9 850.2,409.8 850.9,413.7 851.6,417.6 852.3,421.4 853,425.1 853.7,428.6 854.4,431.8 855.1,434.9 855.8,437.6 856.5,440 857.2,442 857.9,443.6 858.6,444.7 859.3,445.3 860,445.4 860.7,444.8 861.4,443.7 862.1,442 862.8,439.8 863.5,437.1 864.2,434.1 864.9,430.9 865.6,427.7 866.3,424.6 867,421.8 867.7,419.5 868.4,417.9 869.1,417.1 869.8,417 870.5,417.9 871.2,419.6 871.9,421.9 872.6,424.9 873.3,428.3 874,431.9 874.7,435.5 875.4,439.1 876.1,442.3 876.8,445.1 877.5,447.4 878.2,449.1 878.9,450.3 879.6,450.8 880.3,450.7 881,450.2 881.7,449.2 882.4,447.9 883.1,446.3 883.8,444.5 884.5,442.8 885.2,441.1 885.9,439.6 886.6,438.4 887.3,437.5 888,437 888.7,436.9 889.4,437.2 890.1,438 890.8,439.2 891.5,440.7 892.2,442.5 892.9,444.5 893.6,446.6 894.3,448.7 895,450.8 895.7,452.8 896.4,454.7 897.1,456.4 897.8,458 898.5,459.3 899.2,460.4 899.9,461.4 900.6,462.1 901.3,462.8 902,463.2 902.7,463.6 903.4,463.9 904.1,464.1 904.8,464.3 905.5,464.4 906.2,464.4 906.9,464.5 907.6,464.5 908.3,464.6 909,464.6 909.7,464.6 910.4,464.6 911.1,464.6 911.8,464.6 912.5,464.6 913.2,464.6 913.9,464.6 914.6,464.6 915.3,464.6 916,464.6 916.7,464.6 917.4,464.6 918.1,464.6 918.8,464.6 919.5,464.6 920.2,464.6 920.9,464.6 921.6,464.6 922.3,464.6 923,464.6 923.7,464.6 924.4,464.6 925.1,464.6 925.8,464.6 926.5,464.6" fill="none" stroke="#1e2e2e" stroke-width="1.5"/>
</svg></body></html>
